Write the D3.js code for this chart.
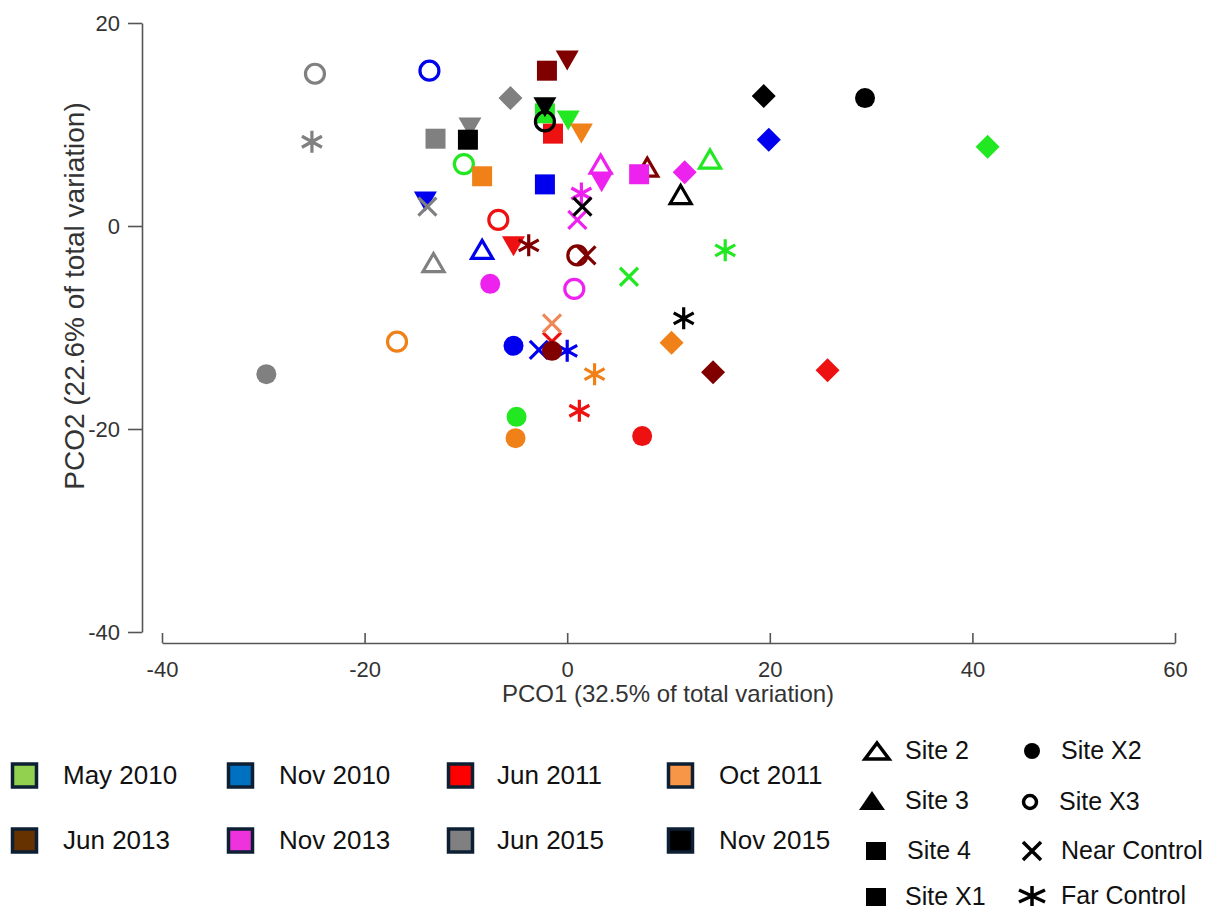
<!DOCTYPE html>
<html><head><meta charset="utf-8">
<script src="https://cdn.jsdelivr.net/npm/d3@7/dist/d3.min.js"></script>
<style>
body{margin:0;background:#fff;}
svg{display:block;font-family:"Liberation Sans",Arial,sans-serif;}
</style></head>
<body>
<svg id="chart" width="1219" height="912"></svg>
<script>
// ---- data ----
const dates = ["May 2010","Nov 2010","Jun 2011","Oct 2011","Jun 2013","Nov 2013","Jun 2015","Nov 2015"];
const sites = ["Site 2","Site 3","Site 4","Site X1","Site X2","Site X3","Near Control","Far Control"];
const xTicks = [-40,-20,0,20,40,60];
const yTicks = [-40,-20,0,20];
// [PCO1, PCO2] per site, in the order of `sites`; null = not present
const may2010 = [[14.1,6.5],[0.1,10.6],[-2.2,11.1],[41.5,7.8],[-5.0,-18.8],[-10.2,6.1],[6.1,-5.0],[15.6,-2.4]];
const nov2010 = [[-8.4,-2.4],[-14.0,2.6],[-2.2,4.1],[19.9,8.5],[-5.3,-11.8],[-13.6,15.3],[-2.8,-12.2],[0.0,-12.3]];
const jun2011 = [null,[-5.3,-1.8],[-1.4,9.1],[25.7,-14.2],[7.4,-20.7],[-6.8,0.6],[-1.5,-11.4],[1.2,-18.2]];
const oct2011 = [null,[1.4,9.3],[-8.4,4.9],[10.3,-11.5],[-5.1,-20.9],[-16.8,-11.4],[-1.5,-9.6],[2.7,-14.6]];
const jun2013 = [[7.9,5.7],[0.0,16.5],[-2.0,15.3],[14.4,-14.4],[-1.5,-12.3],[1.0,-2.9],[1.9,-2.9],[-3.8,-1.9]];
const nov2013 = [[3.3,6.0],[3.4,4.5],[7.1,5.1],[11.6,5.3],[-7.6,-5.7],[0.7,-6.2],[1.0,0.6],[1.4,3.2]];
const jun2015 = [[-13.2,-3.7],[-9.6,9.9],[-13.0,8.6],[-5.6,12.6],[-29.7,-14.6],[-24.9,15.0],[-13.8,1.9],[-25.2,8.3]];
const nov2015 = [[11.2,3.0],[-2.2,11.9],[-9.8,8.5],[19.4,12.8],[29.4,12.6],[-2.2,10.3],[1.5,1.9],[11.5,-9.1]];
const seriesValues = [may2010,nov2010,jun2011,oct2011,jun2013,nov2013,jun2015,nov2015];

// ---- styles ----
const plotColors = ["#22e822","#0000ee","#ee1111","#f08018","#800000","#ee22ee","#808080","#000000"];
const nearCtlColors = ["#22e822","#0000ee","#ee1111","#ee8858","#800000","#ee22ee","#808080","#000000"];
const swatchColors = ["#92d050","#0070c0","#ff0000","#f79646","#663300","#ee33dd","#808080","#000000"];

const svg = d3.select("#chart");
const x = d3.scaleLinear().domain([-40,60]).range([162,1175]);
const y = d3.scaleLinear().domain([-40,20]).range([632,23]);

// axes
const axisColor = "#555";
const fmt = d => String(d);
const yAxis = svg.append("g").attr("transform","translate(142,0)")
  .call(d3.axisLeft(y).tickValues(yTicks).tickFormat(fmt).tickSize(14).tickSizeOuter(0).tickPadding(8));
const xAxis = svg.append("g").attr("transform","translate(0,643)")
  .call(d3.axisBottom(x).tickValues(xTicks).tickFormat(fmt).tickSize(-10).tickSizeOuter(0).tickPadding(14));
[xAxis,yAxis].forEach(g=>{
  g.select(".domain").attr("stroke",axisColor).attr("stroke-width",1.6);
  g.selectAll(".tick line").attr("stroke",axisColor).attr("stroke-width",1.6);
  g.selectAll(".tick text").attr("fill","#333").attr("font-size",22)
   .attr("font-family","'Liberation Sans',Arial,sans-serif");
});
xAxis.selectAll(".tick text").attr("dy","0.9em");

svg.append("text").attr("x",668).attr("y",702).attr("text-anchor","middle")
  .attr("font-size",24).attr("fill","#333").text("PCO1 (32.5% of total variation)");
svg.append("text").attr("transform","translate(84,296) rotate(-90)").attr("text-anchor","middle")
  .attr("font-size",28).attr("fill","#333").text("PCO2 (22.6% of total variation)");

// marker shapes
const shapes = {
  "Site 2":  {d:"M0,-10 L10.5,8 L-10.5,8 Z", fill:false},
  "Site 3":  {d:"M-11.5,-8 L11.5,-8 L0,12 Z", fill:true},
  "Site 4":  {d:"M-10,-10 H10 V10 H-10 Z", fill:true},
  "Site X1": {d:"M0,-12 L12,0 L0,12 L-12,0 Z", fill:true},
  "Site X2": {d:d3.symbol(d3.symbolCircle, Math.PI*100)(), fill:true},
  "Site X3": {d:d3.symbol(d3.symbolCircle, Math.PI*90)(), fill:false},
  "Near Control": {d:"M-9,-9 L9,9 M-9,9 L9,-9", fill:false},
  "Far Control":  {d:"M0,-11 L0,11 M-10,-5.5 L10,5.5 M-10,5.5 L10,-5.5", fill:false}
};

const points = [];
seriesValues.forEach((arr,di)=>{
  arr.forEach((v,si)=>{ if(v) points.push({date:dates[di], di, site:sites[si], x:v[0], y:v[1]}); });
});

svg.append("g").selectAll("path").data(points).join("path")
  .attr("transform",d=>`translate(${x(d.x)},${y(d.y)})`)
  .attr("d",d=>shapes[d.site].d)
  .attr("fill",d=>shapes[d.site].fill ? plotColors[d.di] : "none")
  .attr("stroke",d=>shapes[d.site].fill ? "none" : (d.site==="Near Control"?nearCtlColors[d.di]:plotColors[d.di]))
  .attr("stroke-width",3.2);

// date legend
const swX = [11,227,447,667];
const txX = [63,279,497,719];
const rowY = [775,840];
const dl = svg.append("g");
dates.forEach((dname,i)=>{
  const r = Math.floor(i/4), c = i%4;
  dl.append("rect").attr("x",swX[c]+1.5).attr("y",rowY[r]-11).attr("width",24).attr("height",23)
    .attr("fill",swatchColors[i]).attr("stroke","#0d1f33").attr("stroke-width",3.5);
  dl.append("text").attr("x",txX[c]).attr("y",rowY[r]).attr("dy","0.36em")
    .attr("font-size",26).attr("fill","#111").text(dname);
});

// site legend
const legShapes = {
  "Site 2":  {d:"M0,-8 L12,8 L-12,8 Z", fill:false},
  "Site 3":  {d:"M0,-10 L13,9 L-13,9 Z", fill:true},
  "Site 4":  {d:"M-10,-9 H10 V9 H-10 Z", fill:true},
  "Site X1": {d:"M-10,-9 H10 V9 H-10 Z", fill:true},
  "Site X2": {d:d3.symbol(d3.symbolCircle, Math.PI*64)(), fill:true},
  "Site X3": {d:d3.symbol(d3.symbolCircle, Math.PI*42)(), fill:false},
  "Near Control": {d:"M-9,-9 L9,9 M-9,9 L9,-9", fill:false},
  "Far Control":  {d:"M0,-10 L0,10 M-13,-6 L13,6 M-13,6 L13,-6", fill:false}
};
const legPos = {
  "Site 2":[877,751,905], "Site 3":[872,801,905], "Site 4":[876,851,907], "Site X1":[876,897,905],
  "Site X2":[1032,751,1061], "Site X3":[1030,802,1059], "Near Control":[1032,851,1061], "Far Control":[1032,896,1061]
};
const sl = svg.append("g");
sites.forEach(s=>{
  const p = legPos[s], sh = legShapes[s];
  sl.append("path").attr("transform",`translate(${p[0]},${p[1]})`).attr("d",sh.d)
    .attr("fill",sh.fill?"#000":"none").attr("stroke",sh.fill?"none":"#000").attr("stroke-width",3.5);
  sl.append("text").attr("x",p[2]).attr("y",p[1]).attr("dy","0.33em")
    .attr("font-size",25).attr("fill","#111").text(s);
});
</script>
</body></html>
